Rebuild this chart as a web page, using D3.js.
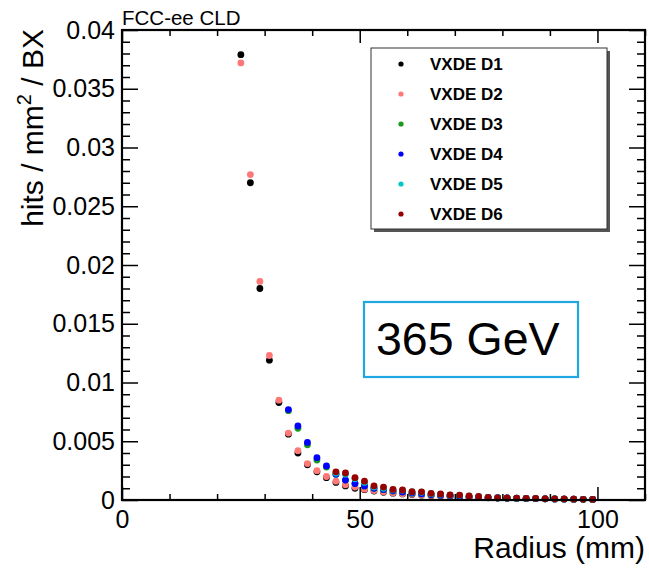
<!DOCTYPE html>
<html>
<head>
<meta charset="utf-8">
<script src="https://cdn.jsdelivr.net/npm/d3@7"></script>
<style>
  html, body { margin: 0; padding: 0; background: #fff; }
  svg { display: block; }
  text { font-family: "Liberation Sans", Arial, Helvetica, sans-serif; }
</style>
</head>
<body>
<svg id="chart" width="649" height="572"></svg>
<script>
// ---------- data ----------
const seriesNames = ["VXDE D1", "VXDE D2", "VXDE D3", "VXDE D4", "VXDE D5", "VXDE D6"];
const seriesColors = ["#000000", "#ff7878", "#1a9a1a", "#0000ff", "#00c8c8", "#990000"];

const radiusD12 = [25, 27, 29, 31, 33, 35, 37, 39, 41, 43, 45, 47, 49, 51, 53, 55, 57, 59, 61, 63, 65, 67, 69, 71, 73, 75, 77, 79, 81, 83, 85, 87, 89, 91, 93, 95, 97, 99];
const radiusD34 = [35, 37, 39, 41, 43, 45, 47, 49, 51, 53, 55, 57, 59, 61, 63, 65, 67, 69, 71, 73, 75, 77, 79, 81, 83, 85, 87, 89, 91, 93, 95, 97, 99];
const radiusD56 = [45, 47, 49, 51, 53, 55, 57, 59, 61, 63, 65, 67, 69, 71, 73, 75, 77, 79, 81, 83, 85, 87, 89, 91, 93, 95, 97, 99];

const valuesD1 = [0.0379, 0.0270, 0.0180, 0.0119, 0.0083, 0.0056, 0.0040, 0.0030, 0.0024, 0.0019, 0.0015, 0.0012, 0.0010, 0.00088, 0.00076, 0.00066, 0.00058, 0.00052, 0.00046, 0.00041, 0.00037, 0.00033, 0.00030, 0.00027, 0.00024, 0.00021, 0.00019, 0.00017, 0.00015, 0.00013, 0.00012, 0.00011, 0.00010, 0.00009, 0.00008, 0.00007, 0.00006, 0.00005];
const valuesD2 = [0.0372, 0.0277, 0.0186, 0.0123, 0.0085, 0.0057, 0.0042, 0.0031, 0.0025, 0.0020, 0.0016, 0.0013, 0.0011, 0.00092, 0.00080, 0.00070, 0.00061, 0.00054, 0.00048, 0.00043, 0.00039, 0.00035, 0.00031, 0.00028, 0.00025, 0.00022, 0.00020, 0.00018, 0.00016, 0.00014, 0.00013, 0.00011, 0.00010, 0.00009, 0.00008, 0.00007, 0.00006, 0.00005];
const valuesD3 = [0.0076, 0.0061, 0.0047, 0.0034, 0.0028, 0.0022, 0.0017, 0.0014, 0.0012, 0.0010, 0.00088, 0.00076, 0.00068, 0.00058, 0.00052, 0.00045, 0.00040, 0.00035, 0.00031, 0.00027, 0.00024, 0.00021, 0.00018, 0.00016, 0.00014, 0.00013, 0.00011, 0.00010, 0.00009, 0.00008, 0.00007, 0.00006, 0.00005];
const valuesD4 = [0.0077, 0.0063, 0.0049, 0.0036, 0.0029, 0.0022, 0.0017, 0.0014, 0.0012, 0.0010, 0.00090, 0.00078, 0.00069, 0.00060, 0.00053, 0.00046, 0.00041, 0.00036, 0.00032, 0.00028, 0.00025, 0.00022, 0.00019, 0.00017, 0.00015, 0.00013, 0.00011, 0.00010, 0.00009, 0.00008, 0.00007, 0.00006, 0.00005];
const valuesD5 = [0.0023, 0.0022, 0.0018, 0.0015, 0.0011, 0.0010, 0.00086, 0.00082, 0.00068, 0.00066, 0.00054, 0.00048, 0.00041, 0.00040, 0.00032, 0.00029, 0.00022, 0.00017, 0.00016, 0.00015, 0.00013, 0.00012, 0.00010, 0.00009, 0.00008, 0.00006, 0.00005, 0.00004];
const valuesD6 = [0.0024, 0.0023, 0.0019, 0.0016, 0.0012, 0.0011, 0.00090, 0.00085, 0.00071, 0.00070, 0.00057, 0.00051, 0.00043, 0.00042, 0.00034, 0.00030, 0.00023, 0.00018, 0.00017, 0.00016, 0.00014, 0.00013, 0.00011, 0.00010, 0.00009, 0.00007, 0.00006, 0.00005];

const xMajorTicks = [0, 50, 100];
const xMinorTicks = [10, 20, 30, 40, 60, 70, 80, 90, 110];
const yMajorTicks = [0, 0.005, 0.01, 0.015, 0.02, 0.025, 0.03, 0.035, 0.04];
const yTickLabels = ["0", "0.005", "0.01", "0.015", "0.02", "0.025", "0.03", "0.035", "0.04"];
const yMinorTicks = d3.range(1, 40).filter(i => i % 5 !== 0).map(i => i / 1000);

const series = [
  { name: seriesNames[0], color: seriesColors[0], r: radiusD12, v: valuesD1 },
  { name: seriesNames[1], color: seriesColors[1], r: radiusD12, v: valuesD2 },
  { name: seriesNames[2], color: seriesColors[2], r: radiusD34, v: valuesD3 },
  { name: seriesNames[3], color: seriesColors[3], r: radiusD34, v: valuesD4 },
  { name: seriesNames[4], color: seriesColors[4], r: radiusD56, v: valuesD5 },
  { name: seriesNames[5], color: seriesColors[5], r: radiusD56, v: valuesD6 }
];

// ---------- layout ----------
const L = 122, R = 645, T = 30, B = 500;
const x = d3.scaleLinear().domain([0, 110]).range([L, R]);
const y = d3.scaleLinear().domain([0, 0.04]).range([B, T]);

const svg = d3.select("#chart");

// points
const pts = svg.append("g");
series.forEach(s => {
  pts.append("g").selectAll("circle")
    .data(s.r.map((r, i) => ({ r, v: s.v[i] })))
    .join("circle")
    .attr("cx", d => x(d.r))
    .attr("cy", d => y(d.v))
    .attr("r", 3.4)
    .attr("fill", s.color);
});

// axes
const axG = svg.append("g").attr("stroke-width", 1);
function noDomain(g) { g.select(".domain").remove(); }

// bottom major
axG.append("g").attr("transform", `translate(0,${B})`)
  .call(d3.axisBottom(x).tickValues(xMajorTicks).tickSizeInner(-13).tickSizeOuter(0).tickPadding(10).tickFormat(d3.format("d")))
  .call(noDomain)
  .call(g => g.selectAll("text").attr("font-size", 25).attr("fill", "#000").attr("dy", "0.72em"))
  .call(g => g.selectAll("line").attr("stroke", "#000").attr("stroke-width", 1.5));
// bottom minor
axG.append("g").attr("transform", `translate(0,${B})`)
  .call(d3.axisBottom(x).tickValues(xMinorTicks).tickSizeInner(-6).tickSizeOuter(0).tickFormat(""))
  .call(noDomain)
  .call(g => g.selectAll("line").attr("stroke", "#000").attr("stroke-width", 1.5));
// top major / minor
axG.append("g").attr("transform", `translate(0,${T})`)
  .call(d3.axisTop(x).tickValues(xMajorTicks).tickSizeInner(-13).tickSizeOuter(0).tickFormat(""))
  .call(noDomain)
  .call(g => g.selectAll("line").attr("stroke", "#000").attr("stroke-width", 1.5));
axG.append("g").attr("transform", `translate(0,${T})`)
  .call(d3.axisTop(x).tickValues(xMinorTicks).tickSizeInner(-6).tickSizeOuter(0).tickFormat(""))
  .call(noDomain)
  .call(g => g.selectAll("line").attr("stroke", "#000").attr("stroke-width", 1.5));

// left major
axG.append("g").attr("transform", `translate(${L},0)`)
  .call(d3.axisLeft(y).tickValues(yMajorTicks).tickSizeInner(-16).tickSizeOuter(0).tickPadding(7)
    .tickFormat((d, i) => yTickLabels[i]))
  .call(noDomain)
  .call(g => g.selectAll("text").attr("font-size", 25).attr("fill", "#000"))
  .call(g => g.selectAll("line").attr("stroke", "#000").attr("stroke-width", 1.5));
// left minor
axG.append("g").attr("transform", `translate(${L},0)`)
  .call(d3.axisLeft(y).tickValues(yMinorTicks).tickSizeInner(-8).tickSizeOuter(0).tickFormat(""))
  .call(noDomain)
  .call(g => g.selectAll("line").attr("stroke", "#000").attr("stroke-width", 1.5));
// right major / minor
axG.append("g").attr("transform", `translate(${R},0)`)
  .call(d3.axisRight(y).tickValues(yMajorTicks).tickSizeInner(-16).tickSizeOuter(0).tickFormat(""))
  .call(noDomain)
  .call(g => g.selectAll("line").attr("stroke", "#000").attr("stroke-width", 1.5));
axG.append("g").attr("transform", `translate(${R},0)`)
  .call(d3.axisRight(y).tickValues(yMinorTicks).tickSizeInner(-8).tickSizeOuter(0).tickFormat(""))
  .call(noDomain)
  .call(g => g.selectAll("line").attr("stroke", "#000").attr("stroke-width", 1.5));

// frame
svg.append("rect")
  .attr("x", L).attr("y", T).attr("width", R - L).attr("height", B - T)
  .attr("fill", "none").attr("stroke", "#000").attr("stroke-width", 2.2);

// axis titles
svg.append("text")
  .attr("x", R).attr("y", 558)
  .attr("text-anchor", "end").attr("font-size", 30).attr("fill", "#000")
  .text("Radius (mm)");

const yt = svg.append("text")
  .attr("transform", "translate(43,29) rotate(-90)")
  .attr("text-anchor", "end").attr("font-size", 30).attr("fill", "#000");
yt.append("tspan").text("hits / mm");
yt.append("tspan").attr("font-size", 20).attr("dy", -12).text("2");
yt.append("tspan").attr("dy", 12).text(" / BX");

// top-left label
svg.append("text")
  .attr("x", 122).attr("y", 25)
  .attr("font-size", 20.5).attr("fill", "#000")
  .text("FCC-ee CLD");

// legend
const lg = svg.append("g");
const lx = 371, ly = 48, lw = 236, lh = 181;
lg.append("rect").attr("x", lx + 3).attr("y", ly + 3).attr("width", lw).attr("height", lh).attr("fill", "#555");
lg.append("rect").attr("x", lx).attr("y", ly).attr("width", lw).attr("height", lh)
  .attr("fill", "#fff").attr("stroke", "#333").attr("stroke-width", 1);
series.forEach((s, i) => {
  const cy = 64 + i * 30;
  lg.append("circle").attr("cx", 401).attr("cy", cy).attr("r", 2.6).attr("fill", s.color);
  lg.append("text").attr("x", 430).attr("y", cy + 6)
    .attr("font-size", 17).attr("font-weight", "bold").attr("fill", "#000")
    .text(s.name);
});

// energy box
svg.append("rect")
  .attr("x", 364).attr("y", 302).attr("width", 214).attr("height", 75)
  .attr("fill", "#fff").attr("stroke", "#1ea7e1").attr("stroke-width", 2.2);
svg.append("text")
  .attr("x", 376).attr("y", 355)
  .attr("font-size", 46.5).attr("fill", "#000")
  .text("365 GeV");
</script>
</body>
</html>
